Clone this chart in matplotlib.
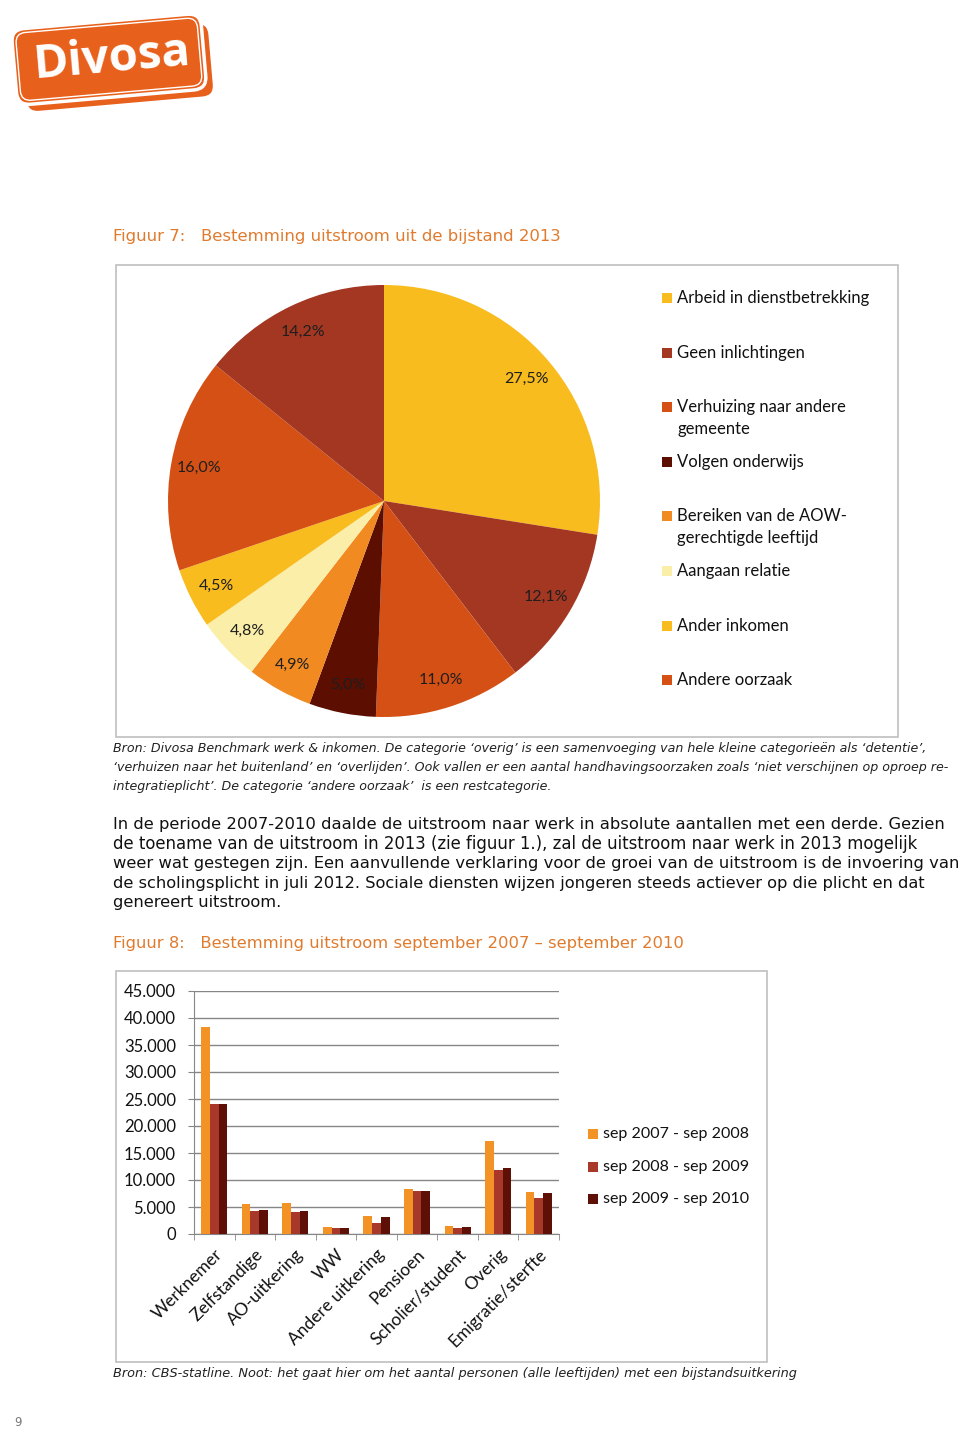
import numpy as np
import matplotlib
matplotlib.use('Agg')
import matplotlib.pyplot as plt
from matplotlib.patches import Rectangle, FancyBboxPatch
from matplotlib.transforms import Affine2D

W, H = 960, 1429

# Figuur 7 - bestemming uitstroom 2013 (procenten)
pie_labels = ['Arbeid in dienstbetrekking', 'Geen inlichtingen',
              'Verhuizing naar andere\ngemeente', 'Volgen onderwijs',
              'Bereiken van de AOW-\ngerechtigde leeftijd', 'Aangaan relatie',
              'Ander inkomen', 'Andere oorzaak', 'Overig']
pie_values = [27.5, 12.1, 11.0, 5.0, 4.9, 4.8, 4.5, 16.0, 14.2]
pie_colors = ['#F9BC1E', '#A33722', '#D55015', '#5C0E00', '#F28A22',
              '#FAEEA8', '#F9BC1E', '#D55015', '#A33722']

# Figuur 8 - bestemming uitstroom sep 2007 - sep 2010 (aantallen)
bar_categories = ['Werknemer', 'Zelfstandige', 'AO-uitkering', 'WW',
                  'Andere uitkering', 'Pensioen', 'Scholier/student',
                  'Overig', 'Emigratie/sterfte']
bar_series = ['sep 2007 - sep 2008', 'sep 2008 - sep 2009', 'sep 2009 - sep 2010']
bar_2008 = [38400, 5600, 5750, 1350, 3400, 8350, 1450, 17200, 7700]
bar_2009 = [24000, 4250, 4000, 1150, 2000, 7900, 1150, 11900, 6750]
bar_2010 = [24000, 4400, 4200, 1150, 3200, 8050, 1350, 12250, 7600]
bar_colors = ['#F39325', '#A8392A', '#5E1006']
y_ticks = [0, 5000, 10000, 15000, 20000, 25000, 30000, 35000, 40000, 45000]

source_7 = ['Bron: Divosa Benchmark werk & inkomen. De categorie \u2018overig\u2019 is een samenvoeging van hele kleine categorie\u00ebn als \u2018detentie\u2019,',
            '\u2018verhuizen naar het buitenland\u2019 en \u2018overlijden\u2019. Ook vallen er een aantal handhavingsoorzaken zoals \u2018niet verschijnen op oproep re-',
            'integratieplicht\u2019. De categorie \u2018andere oorzaak\u2019  is een restcategorie.']
body = ['In de periode 2007-2010 daalde de uitstroom naar werk in absolute aantallen met een derde. Gezien',
        'de toename van de uitstroom in 2013 (zie figuur 1.), zal de uitstroom naar werk in 2013 mogelijk',
        'weer wat gestegen zijn. Een aanvullende verklaring voor de groei van de uitstroom is de invoering van',
        'de scholingsplicht in juli 2012. Sociale diensten wijzen jongeren steeds actiever op die plicht en dat',
        'genereert uitstroom.']
source_8 = 'Bron: CBS-statline. Noot: het gaat hier om het aantal personen (alle leeftijden) met een bijstandsuitkering'

ORANGE = '#E07B2E'
GREY = '#BFBFBF'

fig = plt.figure(figsize=(W / 100, H / 100), dpi=100)
renderer = fig.canvas.get_renderer()

# achtergrond-assen in pixels (y naar beneden)
bg = fig.add_axes([0, 0, 1, 1], zorder=0)
bg.set_xlim(0, W)
bg.set_ylim(H, 0)
bg.axis('off')


def fit(txt, width_px):
    bb = txt.get_window_extent(renderer)
    txt.set_fontsize(txt.get_fontsize() * width_px / bb.width)
    return txt


# logo
rot = Affine2D().rotate_deg_around(112, 60, -5) + bg.transData
logo_or = '#E8611C'
bg.add_patch(FancyBboxPatch((22, 30), 190, 76, boxstyle='round,pad=0,rounding_size=13',
                            fc=logo_or, ec='white', lw=2.5, transform=rot))
bg.add_patch(FancyBboxPatch((14, 21), 190, 76, boxstyle='round,pad=0,rounding_size=13',
                            fc=logo_or, ec='white', lw=2.5, transform=rot))
bg.add_patch(FancyBboxPatch((18, 25), 182, 68, boxstyle='round,pad=0,rounding_size=10',
                            fc='none', ec='white', lw=1.0, transform=rot))
bg.text(112, 59, 'Divosa', color='white', fontsize=34, fontweight='bold',
        family='Open Sans', ha='center', va='center', rotation=5)

# titels
fit(bg.text(113, 236, 'Figuur 7:   Bestemming uitstroom uit de bijstand 2013', color=ORANGE,
            fontsize=11, va='center'), 447)
fit(bg.text(113, 943, 'Figuur 8:   Bestemming uitstroom september 2007 \u2013 september 2010', color=ORANGE,
            fontsize=11, va='center'), 573)

# kaders
bg.add_patch(Rectangle((116, 265), 782, 472, fc='none', ec=GREY, lw=1.2))
bg.add_patch(Rectangle((116, 971), 651, 391, fc='none', ec=GREY, lw=1.2))

# bron en tekst
src_widths = [814, 838, 436]
for i, (line, w) in enumerate(zip(source_7, src_widths)):
    fit(bg.text(113, 748 + 19 * i, line, style='italic', fontsize=9, color='#222222', va='center'), w)
body_widths = [832, 805, 845, 817, 169]
for i, (line, w) in enumerate(zip(body, body_widths)):
    fit(bg.text(113, 824 + 19.7 * i, line, fontsize=11, color='#111111', va='center'), w)
fit(bg.text(113, 1374, source_8, style='italic', fontsize=9, color='#222222', va='center'), 683)
bg.text(14, 1422, '9', fontsize=8.5, color='#777777', va='center')

# legenda figuur 7
for i, (lab, col) in enumerate(zip(pie_labels[:8], pie_colors[:8])):
    y = 298 + 54.6 * i
    bg.add_patch(Rectangle((662, y - 5), 10, 10, fc=col, ec='none'))
    for j, part in enumerate(lab.split('\n')):
        bg.text(677, y + 22 * j, part, family='Lato', fontsize=12, color='#111111', va='center')

# legenda figuur 8
for i, (lab, col) in enumerate(zip(bar_series, bar_colors)):
    y = 1134 + 32.5 * i
    bg.add_patch(Rectangle((588, y - 5), 10, 10, fc=col, ec='none'))
    bg.text(603, y, lab, family='Lato', fontsize=11.5, color='#111111', va='center')

# taartdiagram
ax1 = fig.add_axes([168 / W, 1 - 717 / H, 432 / W, 432 / H], zorder=2)
ax1.pie(pie_values, colors=pie_colors, startangle=90, counterclock=False,
        autopct=lambda p: f'{p:.1f}%'.replace('.', ','), pctdistance=0.87,
        wedgeprops=dict(linewidth=0),
        textprops=dict(family='Lato', fontsize=11.5, color='#1e1e1e'))
ax1.set_xlim(-1, 1)
ax1.set_ylim(-1, 1)

# staafdiagram
ax2 = fig.add_axes([194 / W, 1 - 1234 / H, 365 / W, 243 / H], zorder=2)
x = np.arange(len(bar_categories))
bw = 0.215
for k, vals in enumerate([bar_2008, bar_2009, bar_2010]):
    ax2.bar(x + (k - 1) * bw, vals, bw, color=bar_colors[k], zorder=3)
ax2.set_xlim(-0.5, len(bar_categories) - 0.5)
ax2.set_ylim(0, 45000)
ax2.set_yticks(y_ticks)
ax2.set_yticklabels([f'{v:,}'.replace(',', '.') for v in y_ticks], family='Lato', fontsize=12, color='#111111')
ax2.set_xticks(x)
ax2.set_xticklabels(bar_categories, rotation=45, ha='right', va='top', rotation_mode='anchor',
                    family='Lato', fontsize=12.5, color='#111111')
ax2.set_xticks(np.arange(-0.5, len(bar_categories)), minor=True)
ax2.tick_params(axis='x', which='major', length=0, pad=9)
ax2.tick_params(axis='x', which='minor', length=4, color='#868686', direction='out')
ax2.tick_params(axis='y', length=4, color='#868686', pad=9)
ax2.grid(axis='y', color='#868686', lw=1, zorder=0)
for s in ['top', 'right']:
    ax2.spines[s].set_visible(False)
for s in ['left', 'bottom']:
    ax2.spines[s].set_color('#868686')

fig.savefig('out.png', dpi=100)
